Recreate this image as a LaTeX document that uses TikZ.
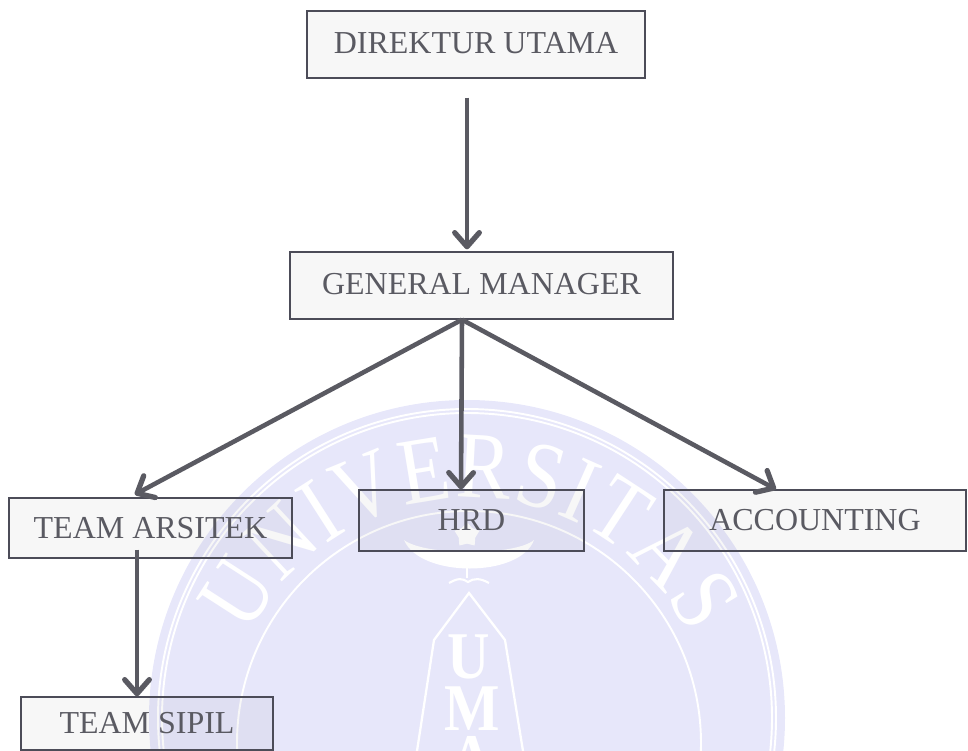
\documentclass[tikz,border=0pt]{standalone}
\usepackage{fontspec}
\setmainfont{Liberation Serif}
\newfontfamily\wmfam[FakeStretch=0.86]{Liberation Serif}
\newfontfamily\sealfam[FakeStretch=0.88]{Liberation Serif}
\usetikzlibrary{arrows.meta,decorations.text,shapes.geometric}
\definecolor{inkgray}{HTML}{5A5A62}
\definecolor{linegray}{HTML}{4C4C58}
\definecolor{arrowgray}{HTML}{5A5A62}
\definecolor{lavender}{HTML}{E7E7FA}
\def\px{0.02cm}
\newcommand\wmfont{\wmfam\fontsize{54}{56}\selectfont}
\tikzstyle{box} = [draw=linegray,line width=0.75pt,fill=black,fill opacity=0.03,text opacity=1,text=inkgray,font=\fontsize{18.2}{21}\selectfont,inner sep=0pt]
\tikzstyle{edge} = [draw=arrowgray,line width=2.6pt,-{Straight Barb[round,length=8pt,width=14pt,line width=3pt]}]
\tikzstyle{seal} = [text=white,font=\sealfam\bfseries\fontsize{38}{40}\selectfont,inner sep=0pt]
\tikzstyle{ring} = [draw=white,line width=1.1pt]

\begin{document}
\begin{tikzpicture}[x=0.02cm,y=-0.02cm]
     \useasboundingbox (0,0) rectangle (968,751);
     % First the watermark behind everything
     \begin{scope}
     \clip (0,0) rectangle (968,751);
     \fill[lavender] (467,718) circle (318);
     \draw[ring] (467,718) circle (309);
     \draw[ring] (467,718) circle (305);
     \draw[ring] (469,743) circle (232);
     \path[decorate,decoration={text along path,text align={fit to path},text color=white,
       text={|\wmfont|UNIVERSITAS}}] (469,743) ++(-154:245) arc[start angle=-154,end angle=-26,radius=245];
     % crescent, star, bird and the torch with its letters
     \fill[white] (404,540) .. controls (420,578) and (520,578) .. (534,540)
       .. controls (515,556) and (425,556) .. (404,540);
     \node[star,fill=white,minimum size=26*\px,inner sep=0pt] (starmark) at (467,535) {};
     \draw[white,line width=1.6pt] (467,556) -- (467,578);
     \draw[white,line width=1.2pt] (449,583) .. controls (458,578) and (462,578) .. (468,582)
       .. controls (474,578) and (480,578) .. (489,583);
     \draw[ring,line width=1.3pt] (417,751) -- (434,640) -- (469,593) -- (505,640) -- (523,751);
     \node[seal] (u) at (469,657) {U};
     \node[seal] (m) at (472,709) {M};
     \node[seal] (a) at (472,758) {A};
     \end{scope}

     % Then the boxes
     \foreach \pos/\name/\bw/\bh/\txt in {{(476,44.5)/direktur/338/67/\raisebox{1.4pt}{DIREKTUR UTAMA}},
       {(481.5,285.5)/gm/383/67/\raisebox{2pt}{GENERAL MANAGER}},
       {(150.5,528)/arsitek/283/60/TEAM ARSITEK},
       {(471.5,520.5)/hrd/225/61/HRD},
       {(815,520.5)/accounting/302/61/ACCOUNTING},
       {(147,723.5)/sipil/252/53/\raisebox{-2.5pt}{TEAM SIPIL}}}
     \node[box,minimum width=\bw*\px,minimum height=\bh*\px] (\name) at \pos {\txt};

     % Connect the boxes
     \path[edge,shorten <=19*\px,shorten >=2*\px] ([xshift=-9*\px]direktur.south) -- ([xshift=-14.5*\px]gm.north);
     \path[edge,shorten >=6*\px] ([xshift=-19.5*\px]gm.south) -- ([xshift=-21*\px]arsitek.north);
     \foreach \source/\sx/\dest/\dx in {gm/-19.5/hrd/-10.5, gm/-19.5/accounting/-39}
     \path[edge] ([xshift=\sx*\px]\source.south) -- ([xshift=\dx*\px]\dest.north);
     \path[edge,shorten <=-9*\px] ([xshift=-13.5*\px]arsitek.south) -- ([xshift=-10*\px]sipil.north);
\end{tikzpicture}
\end{document}
